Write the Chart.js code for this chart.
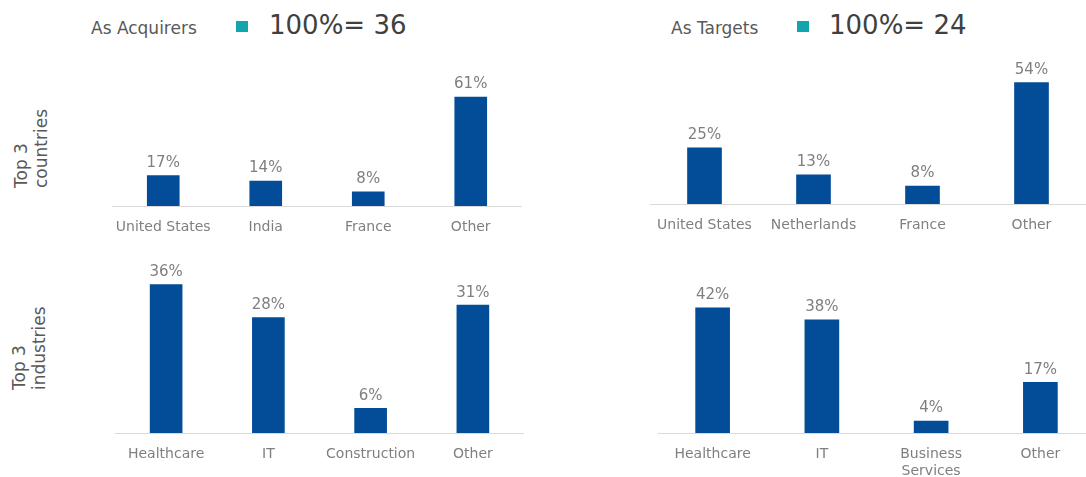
<!DOCTYPE html>
<html>
<head>
<meta charset="utf-8">
<script src="https://cdn.jsdelivr.net/npm/chart.js@4.4.0/dist/chart.umd.min.js"></script>
<style>
  body { margin: 0; background: #fff; font-family: "DejaVu Sans", Verdana, sans-serif; }
  #wrap { position: relative; width: 1086px; height: 477px; overflow: hidden; }
  .box { position: absolute; }
  .hdr { position: absolute; color: #595959; font-size: 17px; white-space: nowrap; }
  .total { position: absolute; color: #404040; font-size: 26px; white-space: nowrap; }
  .sq { position: absolute; width: 12px; height: 11px; background: #12a5ae; }
  .row { position: absolute; color: #595959; font-size: 17px; line-height: 20px;
         writing-mode: vertical-rl; transform: rotate(180deg); text-align: left; white-space: nowrap; }
</style>
</head>
<body>
<div id="wrap">
  <div class="hdr" style="left:91px; top:18px;">As Acquirers</div>
  <div class="sq" style="left:236px; top:21px;"></div>
  <div class="total" style="left:269px; top:10px;">100%= 36</div>

  <div class="hdr" style="left:671px; top:18px;">As Targets</div>
  <div class="sq" style="left:797px; top:21px;"></div>
  <div class="total" style="left:829px; top:10px;">100%= 24</div>

  <div class="row" style="left:11px; top:98px; width:40px; height:90px;">Top 3<br>countries</div>
  <div class="row" style="left:9px; top:298px; width:40px; height:92px;">Top 3<br>industries</div>

  <div class="box" style="left:112px; top:40px; width:410px; height:196px;"><canvas id="c1"></canvas></div>
  <div class="box" style="left:650px; top:40px; width:436px; height:194px;"><canvas id="c2"></canvas></div>
  <div class="box" style="left:115px; top:245px; width:409px; height:218px;"><canvas id="c3"></canvas></div>
  <div class="box" style="left:658px; top:245px; width:437px; height:236px;"><canvas id="c4"></canvas></div>
</div>
<script>
var acqCountries = ["United States", "India", "France", "Other"];
var acqCountryValues = [17, 14, 8, 61];

var tgtCountries = ["United States", "Netherlands", "France", "Other"];
var tgtCountryValues = [25, 13, 8, 54];

var acqIndustries = ["Healthcare", "IT", "Construction", "Other"];
var acqIndustryValues = [36, 28, 6, 31];

var tgtIndustries = ["Healthcare", "IT", ["Business", "Services"], "Other"];
var tgtIndustryValues = [42, 38, 4, 17];

var barColor = "#034c97";
var textGrey = "#7f7f7f";
var fontFamily = "'DejaVu Sans', Verdana, sans-serif";

// draws the "xx%" label above each bar
var valueLabels = {
    id: "valueLabels",
    afterDatasetsDraw: function(chart) {
        var ctx = chart.ctx;
        var meta = chart.getDatasetMeta(0);
        ctx.save();
        ctx.fillStyle = textGrey;
        ctx.font = "15px " + fontFamily;
        ctx.textAlign = "center";
        ctx.textBaseline = "bottom";
        meta.data.forEach(function(bar, i) {
            var v = chart.data.datasets[0].data[i];
            ctx.fillText(v + "%", bar.x, bar.y - 5);
        });
        ctx.restore();
    }
};

function makeChart(id, labels, values, yMax, barWidth, axisHeight) {
    var ctx = document.getElementById(id).getContext("2d");
    return new Chart(ctx, {
        type: "bar",
        data: {
            labels: labels,
            datasets: [{
                data: values,
                backgroundColor: barColor,
                borderWidth: 0,
                barThickness: barWidth
            }]
        },
        options: {
            responsive: true,
            maintainAspectRatio: false,
            animation: false,
            layout: { padding: 0 },
            plugins: { legend: { display: false }, tooltip: { enabled: false } },
            scales: {
                x: {
                    grid: { display: false, drawTicks: false },
                    border: { display: true, color: "#d9d9d9", width: 1 },
                    ticks: {
                        color: textGrey,
                        font: { family: fontFamily, size: 14, lineHeight: 1.2 },
                        padding: 13,
                        autoSkip: false,
                        maxRotation: 0,
                        minRotation: 0
                    },
                    afterFit: function(scale) {
                        scale.height = axisHeight;
                        // keep the axis the full width of the canvas
                        scale.paddingLeft = 0;
                        scale.paddingRight = 0;
                    }
                },
                y: {
                    display: false,
                    min: 0,
                    max: yMax
                }
            }
        },
        plugins: [valueLabels]
    });
}

makeChart("c1", acqCountries, acqCountryValues, 92.9, 32, 30);
makeChart("c2", tgtCountries, tgtCountryValues, 72.9, 34, 30);
makeChart("c3", acqIndustries, acqIndustryValues, 45.6, 32, 30);
makeChart("c4", tgtIndustries, tgtIndustryValues, 63.1, 34, 48);
</script>
</body>
</html>
